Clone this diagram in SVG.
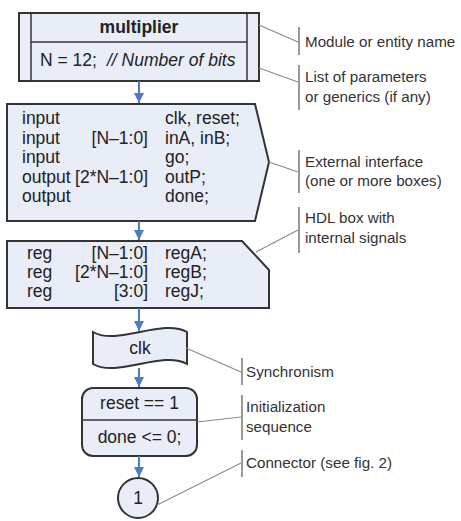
<svg xmlns="http://www.w3.org/2000/svg" width="461" height="521" viewBox="0 0 461 521">
  <defs>
    <style>
      .box { fill: #e8edf8; stroke: #333; stroke-width: 2; }
      .thin { fill: none; stroke: #333; stroke-width: 1.5; }
      .t { font-family: "Liberation Sans", Arial, sans-serif; font-size: 17.5px; fill: #222; }
      .lbl { font-family: "Liberation Sans", Arial, sans-serif; font-size: 15.2px; fill: #333; }
      .lead { fill: none; stroke: #8a8a8a; stroke-width: 1.2; }
      .brk { fill: none; stroke: #777; stroke-width: 1.5; }
      .flow { fill: none; stroke: #4a7cc4; stroke-width: 2; }
    </style>
    <marker id="ah" viewBox="0 0 10 10" refX="10" refY="5" markerWidth="5" markerHeight="5" orient="auto" markerUnits="strokeWidth">
      <path d="M0,0 L10,5 L0,10 Z" fill="#4a7cc4"/>
    </marker>
  </defs>
  <rect width="461" height="521" fill="#fff"/>

  <!-- module name and parameters -->
  <g id="module">
    <rect class="box" x="19" y="13" width="240" height="68"/>
    <line class="thin" x1="31" y1="13" x2="31" y2="81"/>
    <line class="thin" x1="247" y1="13" x2="247" y2="81"/>
    <line class="thin" x1="31" y1="42" x2="247" y2="42"/>
    <text class="t" x="139" y="33" text-anchor="middle" font-weight="bold" font-size="18px">multiplier</text>
    <text class="t" x="40" y="66" font-size="16px">N = 12;</text>
    <text class="t" x="107" y="66" font-size="16px" font-style="italic">// Number of bits</text>
  </g>

  <!-- external interface -->
  <g id="interface">
    <path class="box" d="M7,104 L255,104 L269,162 L255,221 L7,221 Z"/>
    <text class="t" x="22" y="124">input</text>
    <text class="t" x="165" y="124">clk, reset;</text>
    <text class="t" x="22" y="143.5">input</text>
    <text class="t" x="148" y="143.5" text-anchor="end">[N–1:0]</text>
    <text class="t" x="165" y="143.5">inA, inB;</text>
    <text class="t" x="22" y="163">input</text>
    <text class="t" x="165" y="163">go;</text>
    <text class="t" x="22" y="182.5">output</text>
    <text class="t" x="148" y="182.5" text-anchor="end">[2*N–1:0]</text>
    <text class="t" x="165" y="182.5">outP;</text>
    <text class="t" x="22" y="202">output</text>
    <text class="t" x="165" y="202">done;</text>
  </g>

  <!-- internal signals -->
  <g id="signals">
    <path class="box" d="M7,241 L242,241 L269,270 L269,308 L7,308 Z"/>
    <text class="t" x="27" y="259">reg</text>
    <text class="t" x="148" y="259" text-anchor="end">[N–1:0]</text>
    <text class="t" x="165" y="259">regA;</text>
    <text class="t" x="27" y="278">reg</text>
    <text class="t" x="148" y="278" text-anchor="end">[2*N–1:0]</text>
    <text class="t" x="165" y="278">regB;</text>
    <text class="t" x="27" y="297">reg</text>
    <text class="t" x="148" y="297" text-anchor="end">[3:0]</text>
    <text class="t" x="165" y="297">regJ;</text>
  </g>

  <!-- clock -->
  <g id="clock">
    <path class="box" d="M93,332 C117,346 163,318 187,332 L187,364 C163,350 117,378 93,364 Z"/>
    <text class="t" x="140" y="354" text-anchor="middle">clk</text>
  </g>

  <!-- reset sequence -->
  <g id="init">
    <rect class="box" x="82" y="388" width="115" height="68" rx="11" ry="11"/>
    <line class="thin" x1="82" y1="420" x2="197" y2="420"/>
    <text class="t" x="139.5" y="409" text-anchor="middle">reset == 1</text>
    <text class="t" x="139.5" y="443" text-anchor="middle">done &lt;= 0;</text>
  </g>

  <!-- connector -->
  <g id="conn">
    <circle class="box" cx="138" cy="498" r="20"/>
    <text class="t" x="138" y="504" text-anchor="middle">1</text>
  </g>

  <!-- flow arrows -->
  <g id="connectors">
    <line class="flow" x1="139" y1="81" x2="139" y2="103" marker-end="url(#ah)"/>
    <line class="flow" x1="139" y1="221" x2="139" y2="240" marker-end="url(#ah)"/>
    <line class="flow" x1="139" y1="308" x2="139" y2="331" marker-end="url(#ah)"/>
    <line class="flow" x1="139" y1="368" x2="139" y2="387" marker-end="url(#ah)"/>
    <line class="flow" x1="139" y1="456" x2="139" y2="477" marker-end="url(#ah)"/>
  </g>

  <!-- annotations -->
  <g id="notes">
    <line class="lead" x1="259" y1="25" x2="298" y2="42"/>
    <line class="brk" x1="299" y1="27" x2="299" y2="55"/>
    <text class="lbl" x="305" y="47">Module or entity name</text>

    <line class="lead" x1="259" y1="68" x2="298" y2="82"/>
    <line class="brk" x1="299" y1="65" x2="299" y2="110"/>
    <text class="lbl" x="305" y="82">List of parameters</text>
    <text class="lbl" x="305" y="102">or generics (if any)</text>

    <line class="lead" x1="269" y1="162" x2="298" y2="172"/>
    <line class="brk" x1="299" y1="150" x2="299" y2="193"/>
    <text class="lbl" x="305" y="167">External interface</text>
    <text class="lbl" x="305" y="186">(one or more boxes)</text>

    <line class="lead" x1="256" y1="252" x2="298" y2="230"/>
    <line class="brk" x1="299" y1="207" x2="299" y2="253"/>
    <text class="lbl" x="305" y="223">HDL box with</text>
    <text class="lbl" x="305" y="243">internal signals</text>

    <line class="lead" x1="186" y1="348" x2="241" y2="372"/>
    <line class="brk" x1="242" y1="358" x2="242" y2="385"/>
    <text class="lbl" x="246" y="377">Synchronism</text>

    <line class="lead" x1="197" y1="422" x2="241" y2="417"/>
    <line class="brk" x1="242" y1="395" x2="242" y2="440"/>
    <text class="lbl" x="246" y="412">Initialization</text>
    <text class="lbl" x="246" y="432">sequence</text>

    <line class="lead" x1="157" y1="505" x2="241" y2="463"/>
    <line class="brk" x1="242" y1="450" x2="242" y2="477"/>
    <text class="lbl" x="246" y="468">Connector (see fig. 2)</text>
  </g>
</svg>
